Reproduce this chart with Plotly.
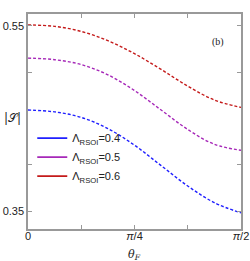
import math
import plotly.graph_objects as go

theta_frac = [0, 0.125, 0.25, 0.375, 0.5, 0.625, 0.75, 0.875, 1.0]
theta = [f * math.pi / 2 for f in theta_frac]

s_04 = [0.459, 0.457, 0.451, 0.439, 0.421, 0.399, 0.377, 0.359, 0.348]
s_05 = [0.515, 0.5133, 0.508, 0.497, 0.480, 0.459, 0.438, 0.422, 0.4155]
s_06 = [0.5508, 0.5493, 0.5438, 0.5338, 0.5198, 0.5028, 0.4848, 0.4698, 0.4618]

labels = ["Λ<sub>RSOI</sub>=0.4", "Λ<sub>RSOI</sub>=0.5", "Λ<sub>RSOI</sub>=0.6"]
colors = ["#1f1fff", "#a628b8", "#c41a1a"]
series = [s_04, s_05, s_06]

x_tickvals = [0, math.pi / 8, math.pi / 4, 3 * math.pi / 8, math.pi / 2]
x_ticktext = ["0", "", "<i>π</i>/4", "", "<i>π</i>/2"]
y_tickvals = [0.35, 0.4, 0.5, 0.55]
y_ticktext = ["0.35", "", "", "0.55"]

fig = go.Figure()
for s, c in zip(series, colors):
    fig.add_trace(go.Scatter(x=theta, y=s, mode="lines", line=dict(color=c, width=1.4, dash="3px,2px", shape="spline"),
                             showlegend=False, hoverinfo="skip"))
for lab, c in zip(labels, colors):
    fig.add_trace(go.Scatter(x=[None], y=[None], mode="lines", line=dict(color=c, width=1.6), name=lab))

axis_common = dict(showline=True, linecolor="#999999", linewidth=1.5, mirror="ticks", ticks="inside",
                   ticklen=4, tickcolor="#999999", showgrid=False, zeroline=False, automargin=False,
                   tickfont=dict(family="Liberation Sans", size=11, color="#222"))

fig.update_xaxes(range=[0, math.pi / 2], tickvals=x_tickvals, ticktext=x_ticktext, ticklabelstandoff=-4,
                 **axis_common)
fig.update_yaxes(range=[0.3306, 0.5626], tickvals=y_tickvals, ticktext=y_ticktext, **axis_common)

fig.update_layout(
    width=250, height=261,
    margin=dict(l=28, r=9, t=14, b=32, autoexpand=False),
    plot_bgcolor="white", paper_bgcolor="white",
    legend=dict(x=0.02, y=0.49, xanchor="left", yanchor="top", bgcolor="rgba(0,0,0,0)",
                font=dict(family="Liberation Sans", size=11, color="#222"),
                tracegroupgap=0, itemwidth=30),
    annotations=[
        dict(text="|𝒮|", xref="paper", yref="paper", x=-0.075, y=0.516, showarrow=False,
             xanchor="center", yanchor="middle", font=dict(family="DejaVu Serif", size=12, color="#222")),
        dict(text="<i>θ<sub>F</sub></i>", xref="paper", yref="paper", x=0.5, y=-0.122, showarrow=False,
             xanchor="center", yanchor="middle", font=dict(family="DejaVu Serif", size=11, color="#222")),
        dict(text="(b)", xref="paper", yref="paper", x=0.89, y=0.87, showarrow=False,
             xanchor="center", yanchor="middle", font=dict(family="Liberation Serif", size=10, color="#222")),
    ],
)

fig.write_html("out.html", config={"displayModeBar": False},
               post_script="document.body.style.margin='0px';")
